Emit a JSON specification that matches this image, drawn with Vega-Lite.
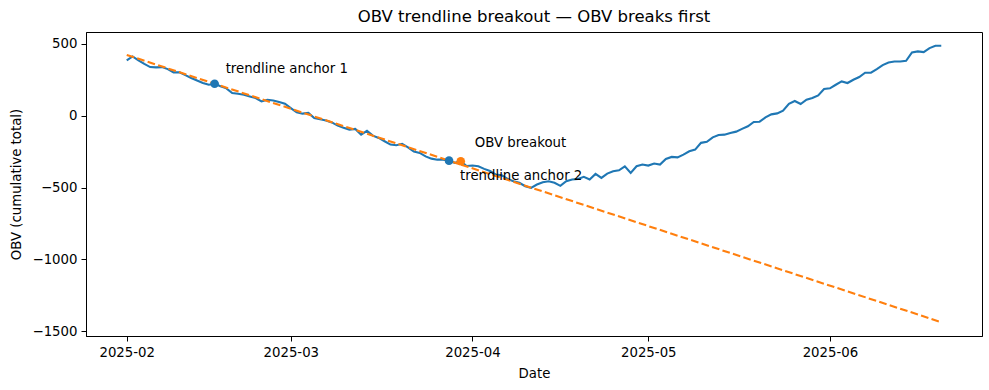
{
  "$schema": "https://vega.github.io/schema/vega-lite/v6.json",
  "width": 896,
  "height": 304,
  "autosize": {"type": "none"},
  "padding": {"left": 86, "top": 32, "right": 7, "bottom": 54},
  "background": "white",
  "title": {"text": "OBV trendline breakout — OBV breaks first", "font": "DejaVu Sans", "fontSize": 16.5, "fontWeight": "normal", "color": "black", "anchor": "middle", "offset": 7},
  "config": {
    "view": {"stroke": "black", "strokeWidth": 1},
    "axis": {"labelFont": "DejaVu Sans", "labelFontSize": 13.3, "labelColor": "black", "titleFont": "DejaVu Sans", "titleFontSize": 13.3, "titleFontWeight": "normal", "titleColor": "black", "tickColor": "black", "tickSize": 5, "domainColor": "black", "grid": false, "labelPadding": 4}
  },
  "datasets": {
    "obv": [
      {"date": "2025-02-01", "obv": 384}, {"date": "2025-02-02", "obv": 412}, {"date": "2025-02-03", "obv": 384}, {"date": "2025-02-04", "obv": 360}, {"date": "2025-02-05", "obv": 338}, {"date": "2025-02-06", "obv": 336}, {"date": "2025-02-07", "obv": 338}, {"date": "2025-02-08", "obv": 324}, {"date": "2025-02-09", "obv": 301}, {"date": "2025-02-10", "obv": 301},
      {"date": "2025-02-11", "obv": 282}, {"date": "2025-02-12", "obv": 262}, {"date": "2025-02-13", "obv": 245}, {"date": "2025-02-14", "obv": 228}, {"date": "2025-02-15", "obv": 215}, {"date": "2025-02-16", "obv": 222}, {"date": "2025-02-17", "obv": 205}, {"date": "2025-02-18", "obv": 190}, {"date": "2025-02-19", "obv": 158}, {"date": "2025-02-20", "obv": 153},
      {"date": "2025-02-21", "obv": 145}, {"date": "2025-02-22", "obv": 134}, {"date": "2025-02-23", "obv": 123}, {"date": "2025-02-24", "obv": 99}, {"date": "2025-02-25", "obv": 111}, {"date": "2025-02-26", "obv": 106}, {"date": "2025-02-27", "obv": 95}, {"date": "2025-02-28", "obv": 83}, {"date": "2025-03-01", "obv": 53}, {"date": "2025-03-02", "obv": 23},
      {"date": "2025-03-03", "obv": 14}, {"date": "2025-03-04", "obv": 19}, {"date": "2025-03-05", "obv": -16}, {"date": "2025-03-06", "obv": -25}, {"date": "2025-03-07", "obv": -33}, {"date": "2025-03-08", "obv": -47}, {"date": "2025-03-09", "obv": -69}, {"date": "2025-03-10", "obv": -84}, {"date": "2025-03-11", "obv": -97}, {"date": "2025-03-12", "obv": -92},
      {"date": "2025-03-13", "obv": -132}, {"date": "2025-03-14", "obv": -106}, {"date": "2025-03-15", "obv": -139}, {"date": "2025-03-16", "obv": -155}, {"date": "2025-03-17", "obv": -178}, {"date": "2025-03-18", "obv": -201}, {"date": "2025-03-19", "obv": -206}, {"date": "2025-03-20", "obv": -196}, {"date": "2025-03-21", "obv": -220}, {"date": "2025-03-22", "obv": -250},
      {"date": "2025-03-23", "obv": -259}, {"date": "2025-03-24", "obv": -283}, {"date": "2025-03-25", "obv": -299}, {"date": "2025-03-26", "obv": -306}, {"date": "2025-03-27", "obv": -306}, {"date": "2025-03-28", "obv": -313}, {"date": "2025-03-29", "obv": -328}, {"date": "2025-03-30", "obv": -317}, {"date": "2025-03-31", "obv": -350}, {"date": "2025-04-01", "obv": -347},
      {"date": "2025-04-02", "obv": -352}, {"date": "2025-04-03", "obv": -370}, {"date": "2025-04-04", "obv": -385}, {"date": "2025-04-05", "obv": -410}, {"date": "2025-04-06", "obv": -415}, {"date": "2025-04-07", "obv": -440}, {"date": "2025-04-08", "obv": -456}, {"date": "2025-04-09", "obv": -467}, {"date": "2025-04-10", "obv": -491}, {"date": "2025-04-11", "obv": -502},
      {"date": "2025-04-12", "obv": -479}, {"date": "2025-04-13", "obv": -463}, {"date": "2025-04-14", "obv": -456}, {"date": "2025-04-15", "obv": -467}, {"date": "2025-04-16", "obv": -488}, {"date": "2025-04-17", "obv": -456}, {"date": "2025-04-18", "obv": -444}, {"date": "2025-04-19", "obv": -440}, {"date": "2025-04-20", "obv": -425}, {"date": "2025-04-21", "obv": -444},
      {"date": "2025-04-22", "obv": -405}, {"date": "2025-04-23", "obv": -433}, {"date": "2025-04-24", "obv": -403}, {"date": "2025-04-25", "obv": -387}, {"date": "2025-04-26", "obv": -380}, {"date": "2025-04-27", "obv": -352}, {"date": "2025-04-28", "obv": -398}, {"date": "2025-04-29", "obv": -352}, {"date": "2025-04-30", "obv": -340}, {"date": "2025-05-01", "obv": -347},
      {"date": "2025-05-02", "obv": -333}, {"date": "2025-05-03", "obv": -340}, {"date": "2025-05-04", "obv": -301}, {"date": "2025-05-05", "obv": -287}, {"date": "2025-05-06", "obv": -290}, {"date": "2025-05-07", "obv": -271}, {"date": "2025-05-08", "obv": -248}, {"date": "2025-05-09", "obv": -236}, {"date": "2025-05-10", "obv": -189}, {"date": "2025-05-11", "obv": -182},
      {"date": "2025-05-12", "obv": -151}, {"date": "2025-05-13", "obv": -134}, {"date": "2025-05-14", "obv": -132}, {"date": "2025-05-15", "obv": -120}, {"date": "2025-05-16", "obv": -111}, {"date": "2025-05-17", "obv": -92}, {"date": "2025-05-18", "obv": -74}, {"date": "2025-05-19", "obv": -44}, {"date": "2025-05-20", "obv": -42}, {"date": "2025-05-21", "obv": -12},
      {"date": "2025-05-22", "obv": 9}, {"date": "2025-05-23", "obv": 16}, {"date": "2025-05-24", "obv": 35}, {"date": "2025-05-25", "obv": 83}, {"date": "2025-05-26", "obv": 102}, {"date": "2025-05-27", "obv": 81}, {"date": "2025-05-28", "obv": 111}, {"date": "2025-05-29", "obv": 123}, {"date": "2025-05-30", "obv": 141}, {"date": "2025-05-31", "obv": 185},
      {"date": "2025-06-01", "obv": 190}, {"date": "2025-06-02", "obv": 215}, {"date": "2025-06-03", "obv": 238}, {"date": "2025-06-04", "obv": 227}, {"date": "2025-06-05", "obv": 250}, {"date": "2025-06-06", "obv": 269}, {"date": "2025-06-07", "obv": 299}, {"date": "2025-06-08", "obv": 299}, {"date": "2025-06-09", "obv": 324}, {"date": "2025-06-10", "obv": 352},
      {"date": "2025-06-11", "obv": 370}, {"date": "2025-06-12", "obv": 377}, {"date": "2025-06-13", "obv": 377}, {"date": "2025-06-14", "obv": 382}, {"date": "2025-06-15", "obv": 440}, {"date": "2025-06-16", "obv": 447}, {"date": "2025-06-17", "obv": 442}, {"date": "2025-06-18", "obv": 470}, {"date": "2025-06-19", "obv": 486}, {"date": "2025-06-20", "obv": 486}
    ],
    "trend": [
      {"date": "2025-02-01", "value": 422.6},
      {"date": "2025-06-20", "value": -1436.5}
    ],
    "marks": [
      {"date": "2025-02-16", "value": 222, "label": "trendline anchor 1", "kind": "anchor1"},
      {"date": "2025-03-28", "value": -313, "label": "trendline anchor 2", "kind": "anchor2"},
      {"date": "2025-03-30", "value": -317, "label": "OBV breakout", "kind": "breakout"}
    ]
  },
  "encoding": {
    "x": {"field": "date", "type": "temporal",
      "scale": {"type": "utc", "domain": [{"year": 2025, "month": 1, "date": 25, "hours": 1, "minutes": 12, "utc": true}, {"year": 2025, "month": 6, "date": 26, "hours": 22, "minutes": 48, "utc": true}]},
      "axis": {"title": "Date", "labelExpr": "utcFormat(datum.value, '%Y-%m')", "labelAngle": 0, "titlePadding": 8,
        "values": [{"year": 2025, "month": 2, "date": 1, "utc": true}, {"year": 2025, "month": 3, "date": 1, "utc": true}, {"year": 2025, "month": 4, "date": 1, "utc": true}, {"year": 2025, "month": 5, "date": 1, "utc": true}, {"year": 2025, "month": 6, "date": 1, "utc": true}]}}
  },
  "layer": [
    {
      "data": {"name": "obv"},
      "mark": {"type": "line", "color": "#1f77b4", "strokeWidth": 2.1},
      "encoding": {
        "y": {"field": "obv", "type": "quantitative", "scale": {"domain": [-1532.6, 582], "nice": false, "zero": false},
          "axis": {"title": "OBV (cumulative total)", "format": "d", "values": [-1500, -1250, -1000, -750, -500, -250, 0, 250, 500], "titlePadding": 9}}
      }
    },
    {
      "data": {"name": "trend"},
      "mark": {"type": "line", "color": "#ff7f0e", "strokeWidth": 2.1, "strokeDash": [7.7, 3.3]},
      "encoding": {"y": {"field": "value", "type": "quantitative"}}
    },
    {
      "data": {"name": "marks"},
      "mark": {"type": "point", "filled": true, "opacity": 1, "size": 75},
      "encoding": {
        "y": {"field": "value", "type": "quantitative"},
        "color": {"field": "kind", "type": "nominal", "scale": {"domain": ["anchor1", "anchor2", "breakout"], "range": ["#1f77b4", "#1f77b4", "#ff7f0e"]}, "legend": null}
      }
    },
    {
      "data": {"name": "marks"},
      "transform": [{"filter": "datum.kind === 'anchor1'"}],
      "mark": {"type": "text", "align": "left", "baseline": "alphabetic", "dx": 11, "dy": -11, "font": "DejaVu Sans", "fontSize": 13.3, "color": "black"},
      "encoding": {"y": {"field": "value", "type": "quantitative"}, "text": {"field": "label"}}
    },
    {
      "data": {"name": "marks"},
      "transform": [{"filter": "datum.kind === 'breakout'"}],
      "mark": {"type": "text", "align": "left", "baseline": "alphabetic", "dx": 14, "dy": -14, "font": "DejaVu Sans", "fontSize": 13.3, "color": "black"},
      "encoding": {"y": {"field": "value", "type": "quantitative"}, "text": {"field": "label"}}
    },
    {
      "data": {"name": "marks"},
      "transform": [{"filter": "datum.kind === 'anchor2'"}],
      "mark": {"type": "text", "align": "left", "baseline": "alphabetic", "dx": 11, "dy": 19, "font": "DejaVu Sans", "fontSize": 13.3, "color": "black"},
      "encoding": {"y": {"field": "value", "type": "quantitative"}, "text": {"field": "label"}}
    }
  ]
}
